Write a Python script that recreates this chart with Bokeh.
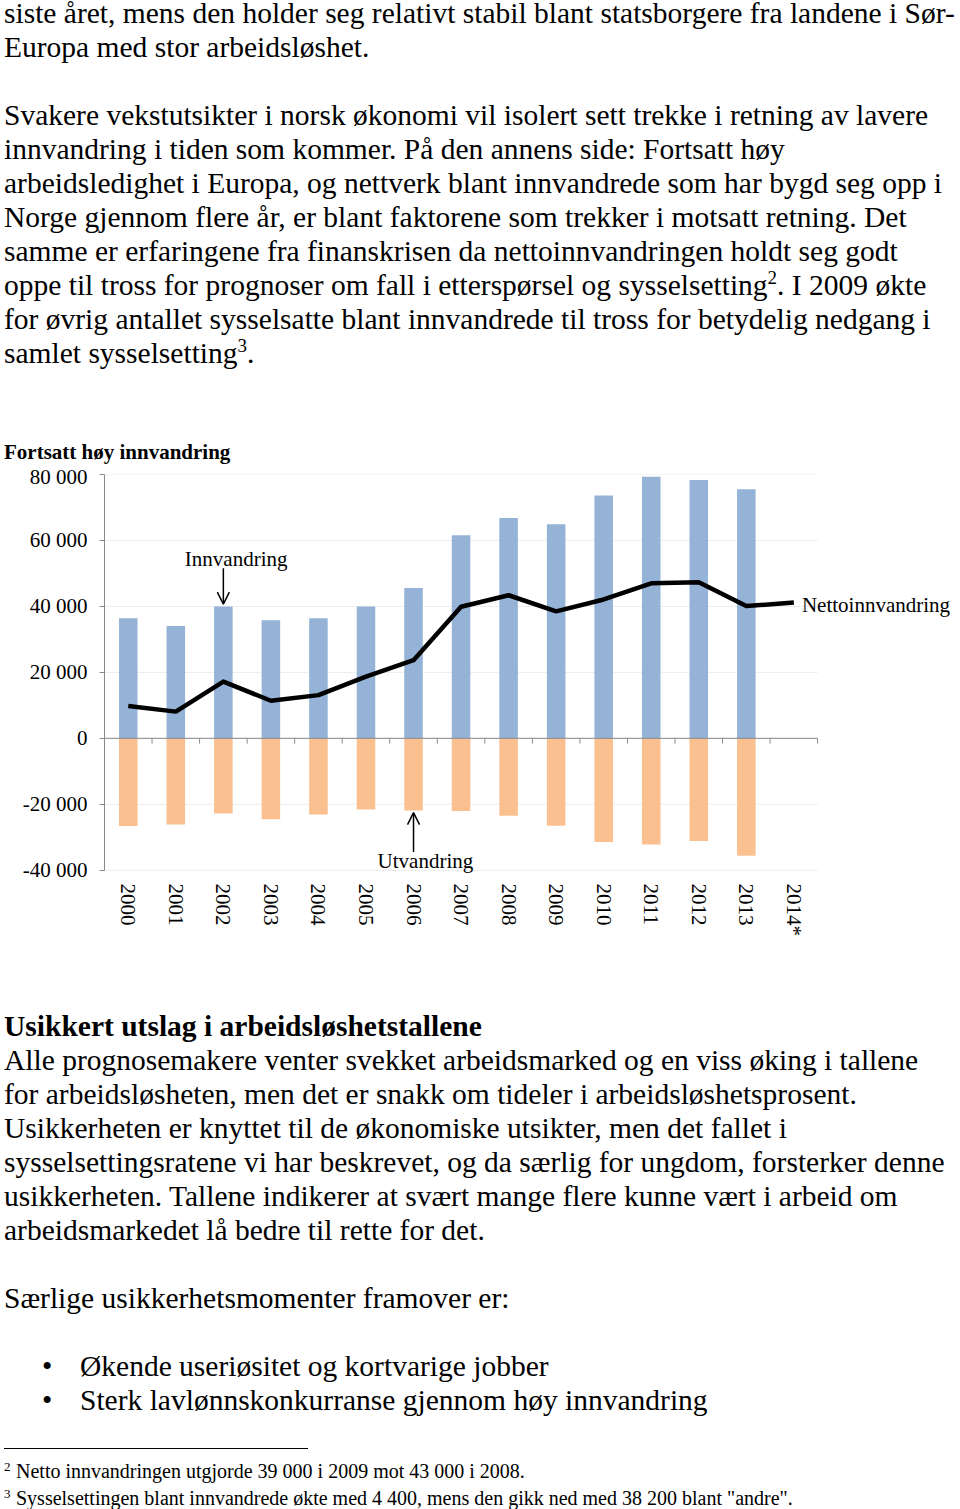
from bokeh.plotting import figure
from bokeh.models import (Div, Label, Arrow, OpenHead, FixedTicker)
from bokeh.layouts import column
from bokeh.embed import file_html
from bokeh.resources import INLINE

# ---------------- data ----------------
years = ["2000", "2001", "2002", "2003", "2004", "2005", "2006", "2007",
         "2008", "2009", "2010", "2011", "2012", "2013", "2014*"]
innvandring = [36400, 34100, 40000, 35800, 36400, 40000, 45600, 61600,
               66800, 64900, 73600, 79300, 78300, 75500]
utvandring = [26600, 26100, 22800, 24500, 23100, 21600, 21900, 22000,
              23500, 26500, 31400, 32200, 31100, 35600]
netto = [9800, 8100, 17200, 11400, 13100, 18700, 23700, 39900,
         43400, 38500, 42100, 47000, 47300, 40100, 41200]
y_tick_values = [-40000, -20000, 0, 20000, 40000, 60000, 80000]
y_tick_labels = ["-40 000", "-20 000", "0", "20 000", "40 000", "60 000", "80 000"]

chart_title = "Fortsatt høy innvandring"

top_lines = [
    "siste året, mens den holder seg relativt stabil blant statsborgere fra landene i Sør-",
    "Europa med stor arbeidsløshet.",
    "",
    "Svakere vekstutsikter i norsk økonomi vil isolert sett trekke i retning av lavere",
    "innvandring i tiden som kommer. På den annens side: Fortsatt høy",
    "arbeidsledighet i Europa, og nettverk blant innvandrede som har bygd seg opp i",
    "Norge gjennom flere år, er blant faktorene som trekker i motsatt retning. Det",
    "samme er erfaringene fra finanskrisen da nettoinnvandringen holdt seg godt",
    "oppe til tross for prognoser om fall i etterspørsel og sysselsetting^2. I 2009 økte",
    "for øvrig antallet sysselsatte blant innvandrede til tross for betydelig nedgang i",
    "samlet sysselsetting^3.",
]
bottom_heading = "Usikkert utslag i arbeidsløshetstallene"
bottom_lines = [
    "Alle prognosemakere venter svekket arbeidsmarked og en viss øking i tallene",
    "for arbeidsløsheten, men det er snakk om tideler i arbeidsløshetsprosent.",
    "Usikkerheten er knyttet til de økonomiske utsikter, men det fallet i",
    "sysselsettingsratene vi har beskrevet, og da særlig for ungdom, forsterker denne",
    "usikkerheten. Tallene indikerer at svært mange flere kunne vært i arbeid om",
    "arbeidsmarkedet lå bedre til rette for det.",
    "",
    "Særlige usikkerhetsmomenter framover er:",
    "",
]
bullets = ["Økende useriøsitet og kortvarige jobber",
           "Sterk lavlønnskonkurranse gjennom høy innvandring"]
footnotes = [("2", "Netto innvandringen utgjorde 39 000 i 2009 mot 43 000 i 2008."),
             ("3", "Sysselsettingen blant innvandrede økte med 4 400, mens den gikk ned med 38 200 blant \"andre\".")]

FONT = "'Liberation Serif', 'Times New Roman', serif"
SUP = '<span style="font-size:19px;position:relative;top:-11px;line-height:0">{}</span>'


def fmt(line):
    if line == "":
        return "<div>&nbsp;</div>"
    for n in ("2", "3"):
        line = line.replace("^" + n, SUP.format(n))
    return "<div>" + line + "</div>"


# ---------------- top text ----------------
top_html = (
    f'<div style="position:relative;top:-4px;left:4px;font-family:{FONT};'
    f'font-size:29.5px;line-height:34px;color:#000;white-space:nowrap;">'
    + "".join(fmt(l) for l in top_lines)
    + f'<div style="margin-top:70px;font-size:21px;line-height:24px;font-weight:bold;">{chart_title}</div>'
    + '</div>'
)
div_top = Div(text=top_html, width=960, height=464, margin=(0, 0, 0, 0))

# ---------------- chart ----------------
n = len(years)
xs_in = list(range(len(innvandring)))
xs_net = list(range(n))
neg_ut = [-v for v in utvandring]
x_lo, x_hi = -0.5, n - 0.5

p = figure(frame_width=851, frame_height=404, x_range=(x_lo, 17.4),
           y_range=(-42500, 80000), output_backend="svg", toolbar_location=None,
           min_border_left=104, min_border_right=5, min_border_top=10,
           min_border_bottom=82, margin=(0, 0, 0, 0))
p.outline_line_color = None
p.background_fill_color = "white"
p.border_fill_color = "white"
p.xgrid.grid_line_color = None
p.ygrid.grid_line_color = None

# horizontal gridlines limited to the category area
p.segment(x0=[x_lo] * len(y_tick_values), y0=y_tick_values,
          x1=[x_hi] * len(y_tick_values), y1=y_tick_values,
          line_color="#ececec", line_width=1)

p.yaxis.ticker = FixedTicker(ticks=y_tick_values)
p.yaxis.bounds = (y_tick_values[0], y_tick_values[-1])
p.yaxis.major_label_overrides = {v: l for v, l in zip(y_tick_values, y_tick_labels)}
p.yaxis.axis_line_color = "#8a8a8a"
p.yaxis.major_tick_line_color = "#8a8a8a"
p.yaxis.major_tick_out = 5
p.yaxis.major_tick_in = 0
p.yaxis.minor_tick_line_color = None
p.yaxis.major_label_standoff = 12
p.yaxis.major_label_text_font = "Liberation Serif"
p.yaxis.major_label_text_font_size = "21px"
p.yaxis.major_label_text_color = "black"

p.xaxis.ticker = FixedTicker(ticks=xs_net)
p.xaxis.major_label_overrides = {i: y for i, y in enumerate(years)}
p.xaxis.major_label_orientation = "vertical"
p.xaxis.axis_line_color = None
p.xaxis.major_tick_line_color = None
p.xaxis.minor_tick_line_color = None
p.xaxis.major_tick_out = 0
p.xaxis.major_label_standoff = 5
p.xaxis.major_label_text_font = "Liberation Serif"
p.xaxis.major_label_text_font_size = "21px"
p.xaxis.major_label_text_color = "black"

p.vbar(x=xs_in, top=innvandring, bottom=0, width=0.39,
       fill_color="#95b3d7", line_color=None)
p.vbar(x=xs_in, top=0, bottom=neg_ut, width=0.39,
       fill_color="#fac090", line_color=None)

# zero axis line with category boundary ticks
p.segment(x0=[x_lo], y0=[0], x1=[x_hi], y1=[0], line_color="#8a8a8a", line_width=1)
bounds = [i + 0.5 for i in xs_net]
p.segment(x0=bounds, y0=[0] * len(bounds), x1=bounds, y1=[-1600] * len(bounds),
          line_color="#8a8a8a", line_width=1)

p.line(x=xs_net, y=netto, line_color="black", line_width=4.5, line_join="round")

lab_style = dict(text_font="Liberation Serif", text_font_size="21px",
                 text_color="black", text_baseline="alphabetic")
p.add_layout(Label(x=2.27, y=54400, text="Innvandring", text_align="center", **lab_style))
p.add_layout(Arrow(x_start=2, y_start=51600, x_end=2, y_end=40700,
                   line_width=1.5, line_color="black",
                   end=OpenHead(size=12, line_width=1.5, line_color="black")))
p.add_layout(Label(x=6.25, y=-37300, text="Utvandring", text_align="center", **lab_style))
p.add_layout(Arrow(x_start=6, y_start=-34500, x_end=6, y_end=-22500,
                   line_width=1.5, line_color="black",
                   end=OpenHead(size=12, line_width=1.5, line_color="black")))
p.add_layout(Label(x=14.17, y=40500, text="Nettoinnvandring", text_align="left", **lab_style))

# ---------------- bottom text ----------------
bul = ('<div><span style="display:inline-block;margin-left:38px;width:38px;">&bull;</span>{}</div>')
fn = ('<div><span style="display:inline-block;width:12px;font-size:13px;position:relative;top:-7px;">{}</span>{}</div>')
bottom_html = (
    f'<div style="position:relative;top:49px;left:4px;font-family:{FONT};'
    f'font-size:29.5px;line-height:34px;color:#000;white-space:nowrap;">'
    + f'<div style="font-weight:bold;">{bottom_heading}</div>'
    + "".join(fmt(l) for l in bottom_lines)
    + "".join(bul.format(b) for b in bullets)
    + '<div style="margin-top:31px;width:304px;height:0;border-top:1.3px solid #000;"></div>'
    + '<div style="margin-top:10px;font-size:20px;line-height:25px;">'
    + "".join(fn.format(k, t) for k, t in footnotes)
    + '</div></div>'
)
div_bottom = Div(text=bottom_html, width=960, height=549, margin=(0, 0, 0, 0))

layout = column(div_top, p, div_bottom, spacing=0)
open("out.html", "w").write(file_html(layout, INLINE))
